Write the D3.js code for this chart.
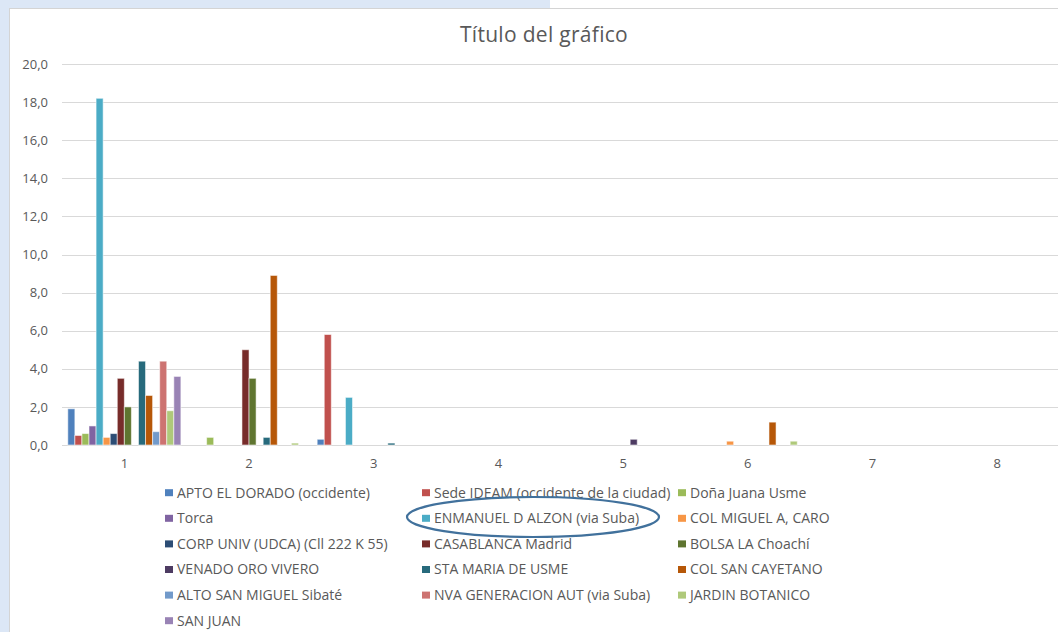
<!DOCTYPE html>
<html>
<head>
<meta charset="utf-8">
<script src="https://cdn.jsdelivr.net/npm/d3@7"></script>
<style>
  html, body { margin: 0; padding: 0; background: #ffffff; }
  svg { display: block; font-family: "Open Sans", sans-serif; }
</style>
</head>
<body>
<svg id="chart" width="1058" height="632"></svg>
<script>
// ---- Data ----
const categories = ["1", "2", "3", "4", "5", "6", "7", "8"];
const yTicks = [0, 2, 4, 6, 8, 10, 12, 14, 16, 18, 20];
const chartTitle = "Título del gráfico";

const seriesNames = [
  "APTO EL DORADO (occidente)", "Sede IDEAM (occidente de la ciudad)", "Doña Juana Usme",
  "Torca", "ENMANUEL D ALZON (via Suba)", "COL MIGUEL A, CARO",
  "CORP UNIV (UDCA) (Cll 222 K 55)", "CASABLANCA Madrid", "BOLSA LA Choachí",
  "VENADO ORO VIVERO", "STA MARIA DE USME", "COL SAN CAYETANO",
  "ALTO SAN MIGUEL Sibaté", "NVA GENERACION AUT (via Suba)", "JARDIN BOTANICO",
  "SAN JUAN"
];

const aptoElDorado   = [1.9, 0,   0.3, 0, 0,   0,   0, 0];
const sedeIdeam      = [0.5, 0,   5.8, 0, 0,   0,   0, 0];
const donaJuanaUsme  = [0.6, 0.4, 0,   0, 0,   0,   0, 0];
const torca          = [1.0, 0,   0,   0, 0,   0,   0, 0];
const enmanuelDAlzon = [18.2, 0,  2.5, 0, 0,   0,   0, 0];
const colMiguelCaro  = [0.4, 0,   0,   0, 0,   0.2, 0, 0];
const corpUnivUdca   = [0.6, 0,   0,   0, 0,   0,   0, 0];
const casablanca     = [3.5, 5.0, 0,   0, 0,   0,   0, 0];
const bolsaChoachi   = [2.0, 3.5, 0,   0, 0,   0,   0, 0];
const venadoOro      = [0,   0,   0,   0, 0.3, 0,   0, 0];
const staMariaUsme   = [4.4, 0.4, 0.1, 0, 0,   0,   0, 0];
const colSanCayetano = [2.6, 8.9, 0,   0, 0,   1.2, 0, 0];
const altoSanMiguel  = [0.7, 0,   0,   0, 0,   0,   0, 0];
const nvaGeneracion  = [4.4, 0,   0,   0, 0,   0,   0, 0];
const jardinBotanico = [1.8, 0.1, 0,   0, 0,   0.2, 0, 0];
const sanJuan        = [3.6, 0,   0,   0, 0,   0,   0, 0];

const seriesValues = [
  aptoElDorado, sedeIdeam, donaJuanaUsme, torca, enmanuelDAlzon, colMiguelCaro,
  corpUnivUdca, casablanca, bolsaChoachi, venadoOro, staMariaUsme, colSanCayetano,
  altoSanMiguel, nvaGeneracion, jardinBotanico, sanJuan
];

const palette = [
  "#4f81bd", "#c0504d", "#9bbb59", "#8064a2", "#4bacc6", "#f79646",
  "#2c4d75", "#772c2a", "#5f7530", "#4d3b62", "#276a7c", "#b65708",
  "#729aca", "#cd7371", "#afc97a", "#9983b5"
];

// ---- Layout ----
const svg = d3.select("#chart");
const W = 1058, H = 632;
const plot = { left: 62, right: 1059.5, top: 64, bottom: 445 };
const textColor = "#595959";
const gridColor = "#d9d9d9";

// frame / background
svg.append("rect").attr("x", 0).attr("y", 0).attr("width", W).attr("height", H).attr("fill", "#ffffff");
svg.append("rect").attr("x", 0).attr("y", 0).attr("width", 9).attr("height", H).attr("fill", "#dce7f6");
svg.append("rect").attr("x", 0).attr("y", 0).attr("width", 550).attr("height", 8).attr("fill", "#dce7f6");
svg.append("line").attr("x1", 9.5).attr("x2", 9.5).attr("y1", 8).attr("y2", H)
  .attr("stroke", "#d4d4d4").attr("stroke-width", 1);
svg.append("line").attr("x1", 9).attr("x2", W).attr("y1", 8.5).attr("y2", 8.5)
  .attr("stroke", "#d4d4d4").attr("stroke-width", 1);

// scales
const x0 = d3.scaleBand().domain(categories).range([plot.left, plot.right])
  .paddingInner(0.093).paddingOuter(0.0465);
const x1 = d3.scaleBand().domain(d3.range(seriesNames.length)).range([0, x0.bandwidth()]).padding(0);
const y = d3.scaleLinear().domain([0, 20]).range([plot.bottom, plot.top]);

// gridlines
svg.append("g").selectAll("line").data(yTicks).join("line")
  .attr("x1", plot.left).attr("x2", plot.right)
  .attr("y1", d => Math.round(y(d)) + 0.5).attr("y2", d => Math.round(y(d)) + 0.5)
  .attr("stroke", gridColor).attr("stroke-width", 1);

// y axis labels
const yAxis = d3.axisLeft(y).tickValues(yTicks).tickSize(0).tickPadding(0)
  .tickFormat(d => d3.format(".1f")(d).replace(".", ","));
const gy = svg.append("g").attr("transform", `translate(48,0)`).call(yAxis);
gy.select(".domain").remove();
gy.selectAll("text").attr("fill", textColor).style("font-size", "13px")
  .style("font-family", "'Open Sans', sans-serif");

// x axis labels
const xAxis = d3.axisBottom(x0).tickSize(0).tickPadding(0);
const gx = svg.append("g").attr("transform", `translate(0,${plot.bottom + 14})`).call(xAxis);
gx.select(".domain").remove();
gx.selectAll("text").attr("fill", textColor).style("font-size", "13px")
  .style("font-family", "'Open Sans', sans-serif");

// bars
const groups = svg.append("g").selectAll("g").data(categories).join("g")
  .attr("transform", d => `translate(${x0(d)},0)`);
groups.selectAll("rect")
  .data((c, ci) => seriesValues.map((vals, si) => ({ si, v: vals[ci] })).filter(d => d.v > 0))
  .join("rect")
  .attr("x", d => x1(d.si))
  .attr("width", x1.bandwidth())
  .attr("y", d => y(d.v))
  .attr("height", d => y(0) - y(d.v))
  .attr("fill", d => palette[d.si])
  .attr("stroke", "#ffffff").attr("stroke-opacity", 0.55).attr("stroke-width", 1);

// title
svg.append("text").attr("x", 544).attr("y", 42).attr("text-anchor", "middle")
  .attr("fill", textColor).style("font-size", "21px").style("letter-spacing", "0.3px").text(chartTitle);

// legend
const legendCols = [165, 422, 678];
const legendRow0 = 492.7, legendRowStep = 25.6;
const lg = svg.append("g").selectAll("g").data(seriesNames).join("g")
  .attr("transform", (d, i) => `translate(${legendCols[i % 3]},${legendRow0 + Math.floor(i / 3) * legendRowStep})`);
lg.append("rect").attr("x", 0).attr("y", -3.5).attr("width", 8).attr("height", 7)
  .attr("fill", (d, i) => palette[i]);
lg.append("text").attr("x", 12).attr("y", 0).attr("dy", "0.35em")
  .attr("fill", textColor).style("font-size", "14px").text(d => d);

// annotation ellipse around ENMANUEL D ALZON
svg.append("ellipse").attr("cx", 533).attr("cy", 517).attr("rx", 126).attr("ry", 20)
  .attr("fill", "none").attr("stroke", "#41719c").attr("stroke-width", 2.2);
</script>
</body>
</html>
